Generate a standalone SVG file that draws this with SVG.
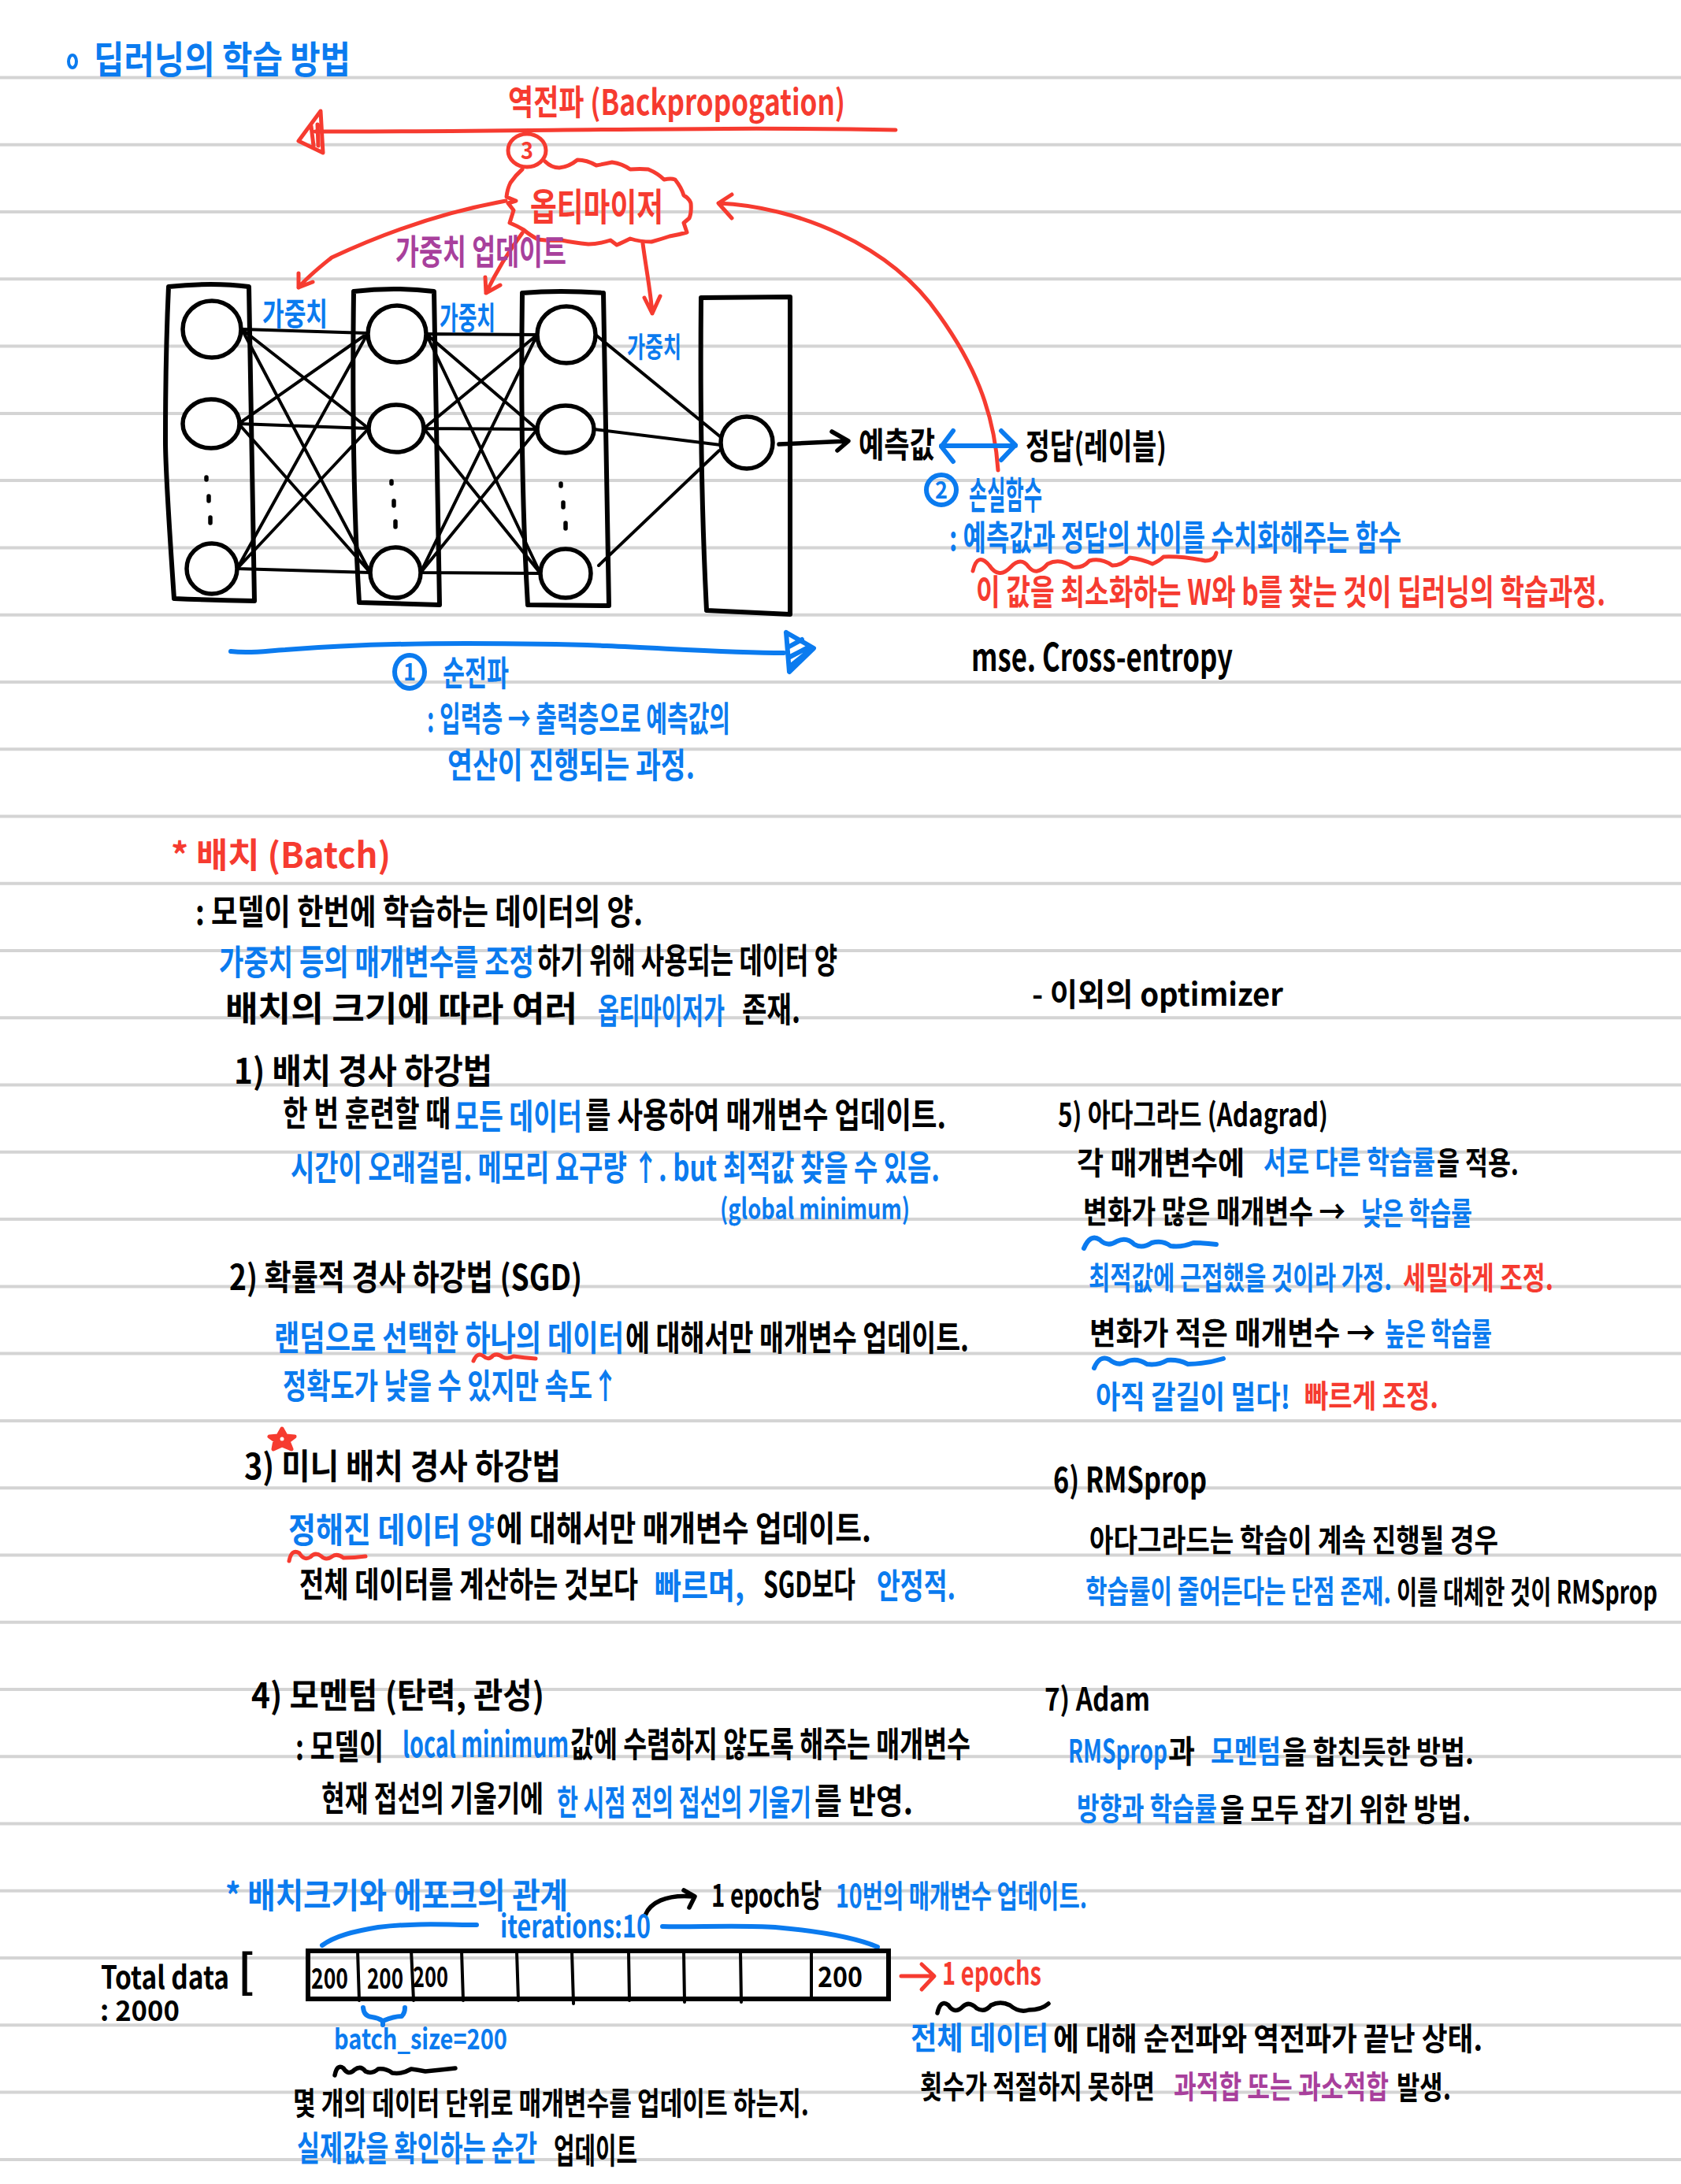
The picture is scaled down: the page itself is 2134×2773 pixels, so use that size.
<svg xmlns="http://www.w3.org/2000/svg" width="2134" height="2773" viewBox="0 0 2134 2773">
<style>
text{font-family:"Noto Sans CJK KR","Noto Sans",sans-serif;font-weight:700}
.k{fill:#000}.b{fill:#0b7bef}.r{fill:#f63b30}.p{fill:#a8409c}
.f30{font-size:30px}.f36{font-size:36px}.f40{font-size:40px}.f44{font-size:44px}.f48{font-size:48px}.f58{font-size:58px}
.rule{stroke:#d4d4d4;stroke-width:4}
.sk{fill:none;stroke:#000;stroke-width:5.5;stroke-linecap:round;stroke-linejoin:round}
.sk2{fill:none;stroke:#000;stroke-width:4;stroke-linecap:round;stroke-linejoin:round}
.sb{fill:none;stroke:#0b7bef;stroke-width:6;stroke-linecap:round;stroke-linejoin:round}
.sr{fill:none;stroke:#f63b30;stroke-width:5;stroke-linecap:round;stroke-linejoin:round}
.node{fill:#fff;stroke:#000;stroke-width:5.5}
.layer{fill:none;stroke:#000;stroke-width:6;stroke-linejoin:round}
</style>
<rect width="2134" height="2773" fill="#fff"/>
<g id="rules" class="rule">
<path d="M0 98.5H2134M0 183.8H2134M0 269H2134M0 354.3H2134M0 439.6H2134M0 524.9H2134M0 610.1H2134M0 695.4H2134M0 780.7H2134M0 865.9H2134M0 951.2H2134M0 1036.5H2134M0 1121.7H2134M0 1207H2134M0 1292.3H2134M0 1377.5H2134M0 1462.8H2134M0 1548.1H2134M0 1633.4H2134M0 1718.6H2134M0 1803.9H2134M0 1889.2H2134M0 1974.4H2134M0 2059.7H2134M0 2145H2134M0 2230.2H2134M0 2315.5H2134M0 2400.8H2134M0 2486.1H2134M0 2571.3H2134M0 2656.6H2134M0 2741.9H2134"/>
</g>
<g id="title">
<ellipse cx="92" cy="78" rx="5" ry="8" fill="none" stroke="#0b7bef" stroke-width="4"/>
<text class="b f48" x="119" y="93" textLength="326" lengthAdjust="spacingAndGlyphs">딥러닝의 학습 방법</text>
</g>
<g id="connectors">
<g class="sk2">
<path d="M307 418L467 423M307 418L468 544M307 418L470 727M303 538L467 423M303 538L468 544M303 538L470 727M301 722L467 423M301 722L468 544M301 722L470 727"/>
<path d="M541 424L682 425M541 424L682 545M541 424L686 728M538 544L682 425M538 544L682 545M538 544L686 728M534 727L682 425M534 727L682 545M534 727L686 728"/>
<path d="M756 425L915 555M754 545L915 565M760 718L913 572"/>
</g>
<path class="sk" d="M989 564L1076 560M1056 548L1077 560L1063 572"/>
<path class="sr" d="M642 255C570 268 500 290 421 327C405 340 392 350 379 365M379 347L379 365L397 358"/>
<path class="sr" d="M663 296C645 320 630 345 617 372M616 352L617 372L635 362"/>
<path class="sr" d="M816 309C820 340 826 370 828 398M818 378L828 398L838 376"/>
<path class="sr" d="M1267 597C1262 520 1235 460 1192 400C1130 310 1010 262 912 258M929 247L912 258L929 277"/>
<path class="sb" d="M1210 547L1195 567L1210 586M1195 566H1289M1271 547L1289 565L1271 584"/>
<path class="sb" d="M293 827C320 830 340 826 362 825C450 818 520 817 592 817C660 817 720 818 770 820C860 824 930 829 995 829"/>
<path id="forward-head" class="sb" d="M998 803L1033 823L1002 853L998 803M1000 822L1018 812M1001 835L1026 822M1004 845L1029 825" />
<path id="back-line" class="sr" d="M400 167C640 168 900 160 1137 165"/>
<path id="back-head" class="sr" d="M407 141L379 179L410 194ZM395 160L398 185M403 158L404 185"/>
</g>
<g id="layer-1"><path class="layer" d="M214 364Q270 358 316 364L323 763Q270 762 221 760Q210 600 210 560Q210 450 214 364Z"/>
<ellipse class="node" cx="269" cy="418" rx="37" ry="36"/><ellipse class="node" cx="268" cy="538" rx="36" ry="31"/><ellipse class="node" cx="269" cy="722" rx="32" ry="32"/>
<path class="sk" d="M262 606v3M265 630v6M267 657v7"/></g>
<g id="layer-2"><path class="layer" d="M449 370Q500 364 551 370L558 768L456 765Q446 600 449 370Z"/>
<ellipse class="node" cx="504" cy="424" rx="37" ry="36"/><ellipse class="node" cx="503" cy="544" rx="35" ry="30"/><ellipse class="node" cx="502" cy="727" rx="32" ry="32"/>
<path class="sk" d="M497 611v3M500 636v6M502 662v7"/></g>
<g id="layer-3"><path class="layer" d="M663 372Q710 368 766 372L773 769L670 768Q660 600 663 372Z"/>
<ellipse class="node" cx="719" cy="425" rx="37" ry="36"/><ellipse class="node" cx="718" cy="545" rx="36" ry="30"/><ellipse class="node" cx="718" cy="728" rx="32" ry="31"/>
<path class="sk" d="M712 614v3M715 638v6M718 664v7"/></g>
<g id="layer-4"><path class="layer" d="M890 378L1003 377L1003 780L897 775Q888 600 890 378Z"/>
<ellipse class="node" cx="948" cy="562" rx="33" ry="33"/></g>
<g id="backprop-label"><text class="r f44" x="645" y="146" textLength="428" lengthAdjust="spacingAndGlyphs">역전파 (Backpropogation)</text></g>
<g id="step-3"><ellipse class="sr" cx="669" cy="191" rx="24" ry="21"/><text class="r f30" x="661" y="202" textLength="16" lengthAdjust="spacingAndGlyphs">3</text></g>
<g id="optimizer">
<path class="sr" d="M692 205Q700 213 710 213Q722 212 733 203Q745 203 757 210Q768 208 777 206Q790 208 800 215Q813 214 823 215Q835 220 843 228Q852 226 857 228Q865 238 868 248Q875 252 877 258Q878 270 875 277L868 283L872 295Q862 298 850 300Q838 304 827 307Q812 307 800 303Q790 308 783 311L775 305Q760 310 747 310Q728 308 713 305Q697 306 683 304Q672 298 665 292Q655 286 647 283L652 267L645 258L655 255L643 250Q644 240 648 232Q655 222 663 215"/>
<text class="r f48" x="673" y="280" textLength="169" lengthAdjust="spacingAndGlyphs">옵티마이저</text>
</g>
<g id="update-label"><text class="p f44" x="502" y="336" textLength="217" lengthAdjust="spacingAndGlyphs">가중치 업데이트</text></g>
<g id="weights">
<text class="b f40" x="333" y="413" textLength="83" lengthAdjust="spacingAndGlyphs">가중치</text>
<text class="b f40" x="558" y="418" textLength="71" lengthAdjust="spacingAndGlyphs">가중치</text>
<text class="b f36" x="796" y="454" textLength="69" lengthAdjust="spacingAndGlyphs">가중치</text>
</g>
<g id="output">
<text class="k f44" x="1090" y="581" textLength="97" lengthAdjust="spacingAndGlyphs">예측값</text>
<text class="k f44" x="1302" y="583" textLength="179" lengthAdjust="spacingAndGlyphs">정답(레이블)</text>
</g>
<g id="loss">
<ellipse class="sb" cx="1195" cy="622" rx="19" ry="19"/><text class="b f30" x="1187" y="633" textLength="16" lengthAdjust="spacingAndGlyphs">2</text>
<text class="b f48" x="1230" y="646" textLength="93" lengthAdjust="spacingAndGlyphs">손실함수</text>
<text class="b f44" x="1205" y="699" textLength="574" lengthAdjust="spacingAndGlyphs">: 예측값과 정답의 차이를 수치화해주는 함수</text>
<path class="sr" d="M1235 725Q1241 700 1256 718Q1268 736 1283 720Q1296 706 1306 720Q1316 732 1330 716Q1346 708 1362 720Q1374 722 1383 712Q1398 708 1412 718Q1424 718 1434 708Q1450 710 1463 716Q1472 712 1477 707Q1500 706 1530 712Q1542 712 1544 702"/>
<text class="r f44" x="1239" y="768" textLength="799" lengthAdjust="spacingAndGlyphs">이 값을 최소화하는 W와 b를 찾는 것이 딥러닝의 학습과정.</text>
<text class="k f48" x="1233" y="852" textLength="332" lengthAdjust="spacingAndGlyphs">mse. Cross-entropy</text>
</g>
<g id="forward">
<ellipse class="sb" cx="520" cy="853" rx="19" ry="21"/><text class="b f30" x="512" y="864" textLength="16" lengthAdjust="spacingAndGlyphs">1</text>
<text class="b f44" x="562" y="871" textLength="84" lengthAdjust="spacingAndGlyphs">순전파</text>
<text class="b f44" x="542" y="929" textLength="385" lengthAdjust="spacingAndGlyphs">: 입력층 → 출력층으로 예측값의</text>
<text class="b f44" x="568" y="988" textLength="314" lengthAdjust="spacingAndGlyphs">연산이 진행되는 과정.</text>
</g>
<g id="batch">
<text class="r f44" x="217" y="1102" textLength="279" lengthAdjust="spacingAndGlyphs">* 배치 (Batch)</text>
<text class="k f44" x="248" y="1174" textLength="568" lengthAdjust="spacingAndGlyphs">: 모델이 한번에 학습하는 데이터의 양.</text>
<text class="b f44" x="278" y="1238" textLength="400" lengthAdjust="spacingAndGlyphs">가중치 등의 매개변수를 조정</text>
<text class="k f44" x="682" y="1236" textLength="381" lengthAdjust="spacingAndGlyphs">하기 위해 사용되는 데이터 양</text>
<text class="k f44" x="286" y="1297" textLength="447" lengthAdjust="spacingAndGlyphs">배치의 크기에 따라 여러</text>
<text class="b f44" x="759" y="1300" textLength="161" lengthAdjust="spacingAndGlyphs">옵티마이저가</text>
<text class="k f44" x="942" y="1298" textLength="74" lengthAdjust="spacingAndGlyphs">존재.</text>
</g>
<g id="method-1">
<text class="k f44" x="297" y="1376" textLength="328" lengthAdjust="spacingAndGlyphs">1) 배치 경사 하강법</text>
<text class="k f44" x="359" y="1430" textLength="213" lengthAdjust="spacingAndGlyphs">한 번 훈련할 때</text>
<text class="b f44" x="577" y="1434" textLength="162" lengthAdjust="spacingAndGlyphs">모든 데이터</text>
<text class="k f44" x="743" y="1432" textLength="458" lengthAdjust="spacingAndGlyphs">를 사용하여 매개변수 업데이트.</text>
<text class="b f44" x="369" y="1499" textLength="824" lengthAdjust="spacingAndGlyphs">시간이 오래걸림. 메모리 요구량 ↑. but 최적값 찾을 수 있음.</text>
<text class="b f36" x="914" y="1548" textLength="241" lengthAdjust="spacingAndGlyphs">(global minimum)</text>
</g>
<g id="method-2">
<text class="k f44" x="291" y="1638" textLength="448" lengthAdjust="spacingAndGlyphs">2) 확률적 경사 하강법 (SGD)</text>
<text class="b f44" x="348" y="1715" textLength="444" lengthAdjust="spacingAndGlyphs">랜덤으로 선택한 하나의 데이터</text>
<text class="k f44" x="794" y="1715" textLength="436" lengthAdjust="spacingAndGlyphs">에 대해서만 매개변수 업데이트.</text>
<path class="sr" d="M601 1728Q606 1716 614 1722Q620 1728 626 1721Q632 1718 638 1723Q645 1726 652 1722Q665 1724 680 1725"/>
<text class="b f44" x="359" y="1776" textLength="426" lengthAdjust="spacingAndGlyphs">정확도가 낮을 수 있지만 속도↑</text>
</g>
<g id="method-3">
<path fill="#f63b30" stroke="#f63b30" stroke-width="5" stroke-linejoin="round" d="M358 1814L363 1823L374 1824L366 1830L370 1840L358 1835L347 1840L349 1829L342 1824L353 1823Z"/>
<circle cx="358" cy="1827" r="2.5" fill="#fff"/>
<text class="k f44" x="310" y="1878" textLength="402" lengthAdjust="spacingAndGlyphs">3) 미니 배치 경사 하강법</text>
<text class="b f44" x="366" y="1959" textLength="262" lengthAdjust="spacingAndGlyphs">정해진 데이터 양</text>
<text class="k f44" x="630" y="1957" textLength="476" lengthAdjust="spacingAndGlyphs">에 대해서만 매개변수 업데이트.</text>
<path class="sr" d="M367 1982Q370 1966 380 1972Q386 1982 394 1977Q400 1970 408 1976Q414 1982 422 1976Q428 1972 436 1978Q450 1978 464 1976"/>
<text class="k f44" x="380" y="2028" textLength="430" lengthAdjust="spacingAndGlyphs">전체 데이터를 계산하는 것보다</text>
<text class="b f44" x="831" y="2030" textLength="114" lengthAdjust="spacingAndGlyphs">빠르며,</text>
<text class="k f44" x="969" y="2028" textLength="117" lengthAdjust="spacingAndGlyphs">SGD보다</text>
<text class="b f44" x="1113" y="2030" textLength="100" lengthAdjust="spacingAndGlyphs">안정적.</text>
</g>
<g id="method-4">
<text class="k f44" x="319" y="2169" textLength="372" lengthAdjust="spacingAndGlyphs">4) 모멘텀 (탄력, 관성)</text>
<text class="k f44" x="375" y="2234" textLength="112" lengthAdjust="spacingAndGlyphs">: 모델이</text>
<text class="b f44" x="511" y="2231" textLength="211" lengthAdjust="spacingAndGlyphs">local minimum</text>
<text class="k f44" x="724" y="2231" textLength="508" lengthAdjust="spacingAndGlyphs">값에 수렴하지 않도록 해주는 매개변수</text>
<text class="k f44" x="408" y="2300" textLength="282" lengthAdjust="spacingAndGlyphs">현재 접선의 기울기에</text>
<text class="b f44" x="707" y="2305" textLength="323" lengthAdjust="spacingAndGlyphs">한 시점 전의 접선의 기울기</text>
<text class="k f44" x="1034" y="2303" textLength="125" lengthAdjust="spacingAndGlyphs">를 반영.</text>
</g>
<g id="other-optimizers">
<text class="k f40" x="1310" y="1277" textLength="319" lengthAdjust="spacingAndGlyphs">- 이외의 optimizer</text>
</g>
<g id="method-5">
<text class="k f40" x="1343" y="1430" textLength="343" lengthAdjust="spacingAndGlyphs">5) 아다그라드 (Adagrad)</text>
<text class="k f40" x="1367" y="1491" textLength="213" lengthAdjust="spacingAndGlyphs">각 매개변수에</text>
<text class="b f40" x="1604" y="1490" textLength="218" lengthAdjust="spacingAndGlyphs">서로 다른 학습률</text>
<text class="k f40" x="1824" y="1491" textLength="104" lengthAdjust="spacingAndGlyphs">을 적용.</text>
<text class="k f40" x="1375" y="1553" textLength="333" lengthAdjust="spacingAndGlyphs">변화가 많은 매개변수 →</text>
<text class="b f40" x="1728" y="1555" textLength="141" lengthAdjust="spacingAndGlyphs">낮은 학습률</text>
<path class="sb" d="M1376 1585Q1384 1566 1396 1574Q1406 1584 1418 1576Q1430 1570 1440 1580Q1450 1586 1462 1578Q1476 1574 1486 1582Q1500 1584 1515 1578Q1530 1578 1544 1580" stroke-width="5"/>
<text class="b f40" x="1382" y="1637" textLength="385" lengthAdjust="spacingAndGlyphs">최적값에 근접했을 것이라 가정.</text>
<text class="r f40" x="1781" y="1637" textLength="191" lengthAdjust="spacingAndGlyphs">세밀하게 조정.</text>
<text class="k f40" x="1383" y="1707" textLength="363" lengthAdjust="spacingAndGlyphs">변화가 적은 매개변수 →</text>
<text class="b f40" x="1758" y="1708" textLength="136" lengthAdjust="spacingAndGlyphs">높은 학습률</text>
<path class="sb" d="M1389 1737Q1396 1720 1408 1726Q1420 1736 1432 1728Q1444 1724 1456 1732Q1470 1734 1482 1727Q1496 1726 1508 1732Q1530 1732 1553 1725" stroke-width="5"/>
<text class="b f40" x="1391" y="1788" textLength="247" lengthAdjust="spacingAndGlyphs">아직 갈길이 멀다!</text>
<text class="r f40" x="1656" y="1787" textLength="170" lengthAdjust="spacingAndGlyphs">빠르게 조정.</text>
</g>
<g id="method-6">
<text class="k f44" x="1337" y="1895" textLength="195" lengthAdjust="spacingAndGlyphs">6) RMSprop</text>
<text class="k f40" x="1383" y="1970" textLength="519" lengthAdjust="spacingAndGlyphs">아다그라드는 학습이 계속 진행될 경우</text>
<text class="b f40" x="1378" y="2035" textLength="388" lengthAdjust="spacingAndGlyphs">학습률이 줄어든다는 단점 존재.</text>
<text class="k f40" x="1773" y="2036" textLength="331" lengthAdjust="spacingAndGlyphs">이를 대체한 것이 RMSprop</text>
</g>
<g id="method-7">
<text class="k f40" x="1326" y="2172" textLength="134" lengthAdjust="spacingAndGlyphs">7) Adam</text>
<text class="b f40" x="1356" y="2238" textLength="126" lengthAdjust="spacingAndGlyphs">RMSprop</text>
<text class="k f40" x="1483" y="2238" textLength="34" lengthAdjust="spacingAndGlyphs">과</text>
<text class="b f40" x="1537" y="2238" textLength="89" lengthAdjust="spacingAndGlyphs">모멘텀</text>
<text class="k f40" x="1628" y="2239" textLength="243" lengthAdjust="spacingAndGlyphs">을 합친듯한 방법.</text>
<text class="b f40" x="1367" y="2311" textLength="178" lengthAdjust="spacingAndGlyphs">방향과 학습률</text>
<text class="k f40" x="1549" y="2312" textLength="318" lengthAdjust="spacingAndGlyphs">을 모두 잡기 위한 방법.</text>
</g>
<g id="relation">
<text class="b f44" x="286" y="2423" textLength="435" lengthAdjust="spacingAndGlyphs">* 배치크기와 에포크의 관계</text>
<path class="sk" d="M819 2432C825 2416 845 2405 880 2408M868 2400L882 2408L875 2422"/>
<text class="k f40" x="903" y="2421" textLength="140" lengthAdjust="spacingAndGlyphs">1 epoch당</text>
<text class="b f40" x="1061" y="2422" textLength="319" lengthAdjust="spacingAndGlyphs">10번의 매개변수 업데이트.</text>
<text class="b f40" x="635" y="2460" textLength="191" lengthAdjust="spacingAndGlyphs">iterations:10</text>
<path class="sb" d="M409 2470C425 2458 450 2452 480 2447C530 2441 570 2444 605 2444M841 2446C880 2447 940 2444 984 2447C1040 2452 1085 2460 1114 2472"/>
<text class="k f40" x="128" y="2525" textLength="163" lengthAdjust="spacingAndGlyphs">Total data</text>
<text class="k f58" x="302" y="2524" textLength="21" lengthAdjust="spacingAndGlyphs">[</text>
<text class="k f36" x="127" y="2566" textLength="101" lengthAdjust="spacingAndGlyphs">: 2000</text>
</g>
<g id="data-bar">
<rect x="391" y="2477" width="737" height="61" fill="none" stroke="#000" stroke-width="6"/>
<path class="sk2" d="M454 2477L456 2540M522 2476L525 2540M586 2477L588 2540M656 2478L658 2540M726 2478L728 2544M798 2478L799 2540M868 2478L869 2542M940 2478L941 2542M1030 2478V2538"/>
<text class="k f36" x="395" y="2525" textLength="47" lengthAdjust="spacingAndGlyphs">200</text>
<text class="k f36" x="466" y="2525" textLength="46" lengthAdjust="spacingAndGlyphs">200</text>
<text class="k f36" x="524" y="2523" textLength="45" lengthAdjust="spacingAndGlyphs">200</text>
<text class="k f36" x="1038" y="2523" textLength="57" lengthAdjust="spacingAndGlyphs">200</text>
</g>
<g id="epochs">
<path class="sr" d="M1144 2509H1184M1170 2494L1186 2509L1170 2526"/>
<text class="r f40" x="1196" y="2520" textLength="126" lengthAdjust="spacingAndGlyphs">1 epochs</text>
<path class="sk" stroke-width="4" d="M1190 2556Q1194 2538 1204 2546Q1212 2558 1222 2548Q1230 2540 1240 2550Q1250 2556 1258 2546Q1270 2540 1282 2546Q1294 2556 1306 2552Q1322 2552 1331 2544"/>
<text class="b f40" x="1156" y="2602" textLength="175" lengthAdjust="spacingAndGlyphs">전체 데이터</text>
<text class="k f40" x="1337" y="2603" textLength="545" lengthAdjust="spacingAndGlyphs">에 대해 순전파와 역전파가 끝난 상태.</text>
<text class="k f40" x="1168" y="2664" textLength="298" lengthAdjust="spacingAndGlyphs">횟수가 적절하지 못하면</text>
<text class="p f40" x="1490" y="2664" textLength="273" lengthAdjust="spacingAndGlyphs">과적합 또는 과소적합</text>
<text class="k f40" x="1773" y="2665" textLength="69" lengthAdjust="spacingAndGlyphs">발생.</text>
</g>
<g id="batch-size">
<path class="sb" d="M461 2549Q462 2560 472 2561Q480 2562 486 2566Q500 2560 510 2560Q514 2556 514 2549M486 2566V2571"/>
<text class="b f36" x="424" y="2602" textLength="220" lengthAdjust="spacingAndGlyphs">batch_size=200</text>
<path class="sk" stroke-width="4" d="M425 2635Q428 2620 436 2626Q442 2636 450 2628Q458 2622 464 2630Q472 2634 480 2627Q490 2626 498 2632Q510 2634 522 2627Q530 2628 540 2630Q560 2628 578 2626"/>
<text class="k f40" x="372" y="2685" textLength="655" lengthAdjust="spacingAndGlyphs">몇 개의 데이터 단위로 매개변수를 업데이트 하는지.</text>
<text class="b f44" x="377" y="2744" textLength="305" lengthAdjust="spacingAndGlyphs">실제값을 확인하는 순간</text>
<text class="k f44" x="703" y="2747" textLength="106" lengthAdjust="spacingAndGlyphs">업데이트</text>
</g>
</svg>
